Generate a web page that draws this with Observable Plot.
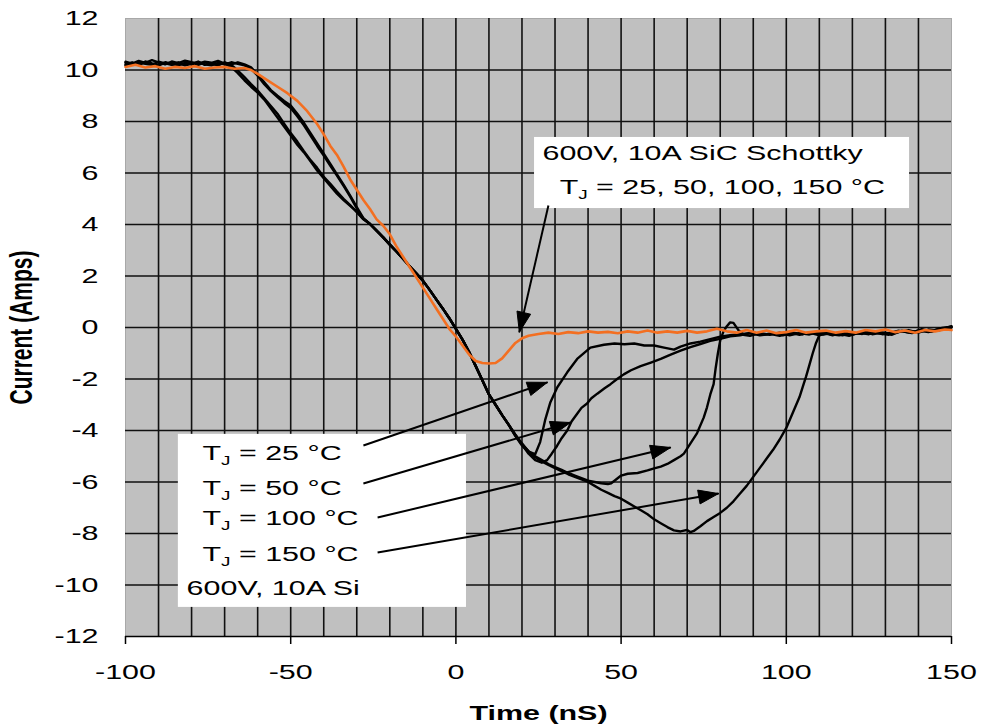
<!DOCTYPE html>
<html>
<head>
<meta charset="utf-8">
<script src="https://cdn.jsdelivr.net/npm/d3@7"></script>
<script src="https://cdn.jsdelivr.net/npm/@observablehq/plot@0.6"></script>
<style>
  html, body { margin: 0; padding: 0; background: #fff; }
</style>
</head>
<body>
<div id="chart"></div>
<script>
// ---------- axes ----------
const xDomain = [-100, 150];
const yDomain = [-12, 12];
const xTicks = [-100, -50, 0, 50, 100, 150];
const yTicks = [-12, -10, -8, -6, -4, -2, 0, 2, 4, 6, 8, 10, 12];
const xGrid = [-90, -80, -70, -60, -50, -40, -30, -20, -10, 0, 10, 20, 30, 40, 50, 60, 70, 80, 90, 100, 110, 120, 130, 140];
const yGrid = [-10, -8, -6, -4, -2, 0, 2, 4, 6, 8, 10];
const xTitle = "Time (nS)";
const yTitle = "Current (Amps)";

// ---------- SiC Schottky (orange) [time ns, current A] ----------
const sic = [[-100,10.12],[-97,10.2],[-94,10.1],[-91,10.15],[-88,10.05],[-85,10.12],[-82,10.08],[-79,10.15],[-76,10.05],[-73,10.1],[-70,10.12],[-67,10.05],[-64,10.08],[-62,10.0],[-60,9.85],[-57,9.6],[-54,9.35],[-51,9.1],[-48,8.8],[-45,8.4],[-42,7.9],[-40,7.5],[-38,7.05],[-36,6.7],[-34,6.25],[-32,5.75],[-30,5.35],[-28,4.95],[-26,4.6],[-24,4.2],[-22,3.95],[-20,3.62],[-18,3.15],[-16,2.75],[-14,2.35],[-12,1.95],[-10,1.55],[-8,1.15],[-6,0.75],[-4,0.35],[-2,-0.05],[0,-0.35],[2,-0.7],[4,-1.05],[6,-1.3],[8,-1.38],[10,-1.4],[12,-1.38],[14,-1.2],[16,-0.9],[18,-0.6],[20,-0.42],[22,-0.32],[25,-0.25],[28,-0.2],[31,-0.25],[34,-0.18],[37,-0.22],[40,-0.15],[43,-0.2],[46,-0.17],[49,-0.22],[52,-0.15],[55,-0.2],[58,-0.12],[61,-0.2],[64,-0.15],[67,-0.2],[70,-0.13],[73,-0.2],[76,-0.15],[79,-0.05],[82,-0.15],[85,-0.2],[88,-0.1],[91,-0.2],[94,-0.12],[97,-0.22],[100,-0.18],[103,-0.1],[106,-0.2],[109,-0.15],[112,-0.12],[115,-0.2],[118,-0.14],[121,-0.2],[124,-0.1],[127,-0.15],[130,-0.08],[133,-0.18],[136,-0.12],[139,-0.2],[142,-0.1],[145,-0.15],[148,-0.08],[150,-0.1]];

// ---------- Si diode (black) pieces ----------
const siEarlyA = [[-100,10.32],[-98,10.25],[-96,10.35],[-94,10.28],[-92,10.38],[-90,10.3],[-88,10.22],[-86,10.33],[-84,10.27],[-82,10.36],[-80,10.3],[-78,10.25],[-76,10.32],[-74,10.28],[-72,10.35],[-70,10.25],[-68,10.12],[-66,9.88],[-64,9.6],[-62,9.35],[-60,9.12],[-58,8.85],[-56,8.5],[-54,8.15],[-52,7.8],[-50,7.45],[-48,7.1],[-46,6.8],[-44,6.45],[-42,6.1],[-40,5.8],[-38,5.5],[-36,5.2],[-34,4.95],[-32,4.72],[-30,4.5],[-28,4.22]];
const siEarlyA2 = [[-100,10.22],[-98,10.3],[-96,10.2],[-94,10.33],[-92,10.26],[-90,10.2],[-88,10.3],[-86,10.24],[-84,10.18],[-82,10.28],[-80,10.22],[-78,10.33],[-76,10.2],[-74,10.26],[-72,10.18],[-70,10.3],[-68,10.2],[-66,9.98],[-64,9.72],[-62,9.45],[-60,9.2],[-58,8.9],[-56,8.6],[-54,8.3],[-52,7.92],[-50,7.55],[-48,7.22],[-46,6.85],[-44,6.5],[-42,6.2],[-40,5.85],[-38,5.58],[-36,5.28],[-34,5.0],[-32,4.75],[-30,4.48],[-28,4.2]];
const siEarlyB = [[-100,10.28],[-98,10.2],[-96,10.3],[-94,10.24],[-92,10.2],[-90,10.32],[-88,10.26],[-86,10.2],[-84,10.3],[-82,10.22],[-80,10.28],[-78,10.2],[-76,10.3],[-74,10.24],[-72,10.2],[-70,10.28],[-68,10.22],[-66,10.3],[-64,10.22],[-62,10.1],[-60,9.82],[-58,9.52],[-56,9.22],[-54,9.0],[-52,8.8],[-50,8.62],[-48,8.3],[-46,7.95],[-44,7.55],[-42,7.15],[-40,6.75],[-38,6.35],[-36,5.95],[-34,5.55],[-32,5.12],[-30,4.68],[-28,4.25]];
const siEarlyB2 = [[-100,10.18],[-98,10.26],[-96,10.22],[-94,10.3],[-92,10.24],[-90,10.18],[-88,10.28],[-86,10.22],[-84,10.26],[-82,10.18],[-80,10.24],[-78,10.3],[-76,10.22],[-74,10.18],[-72,10.28],[-70,10.22],[-68,10.3],[-66,10.24],[-64,10.18],[-62,10.05],[-60,9.78],[-58,9.45],[-56,9.18],[-54,8.95],[-52,8.72],[-50,8.52],[-48,8.2],[-46,7.85],[-44,7.45],[-42,7.05],[-40,6.68],[-38,6.28],[-36,5.9],[-34,5.5],[-32,5.08],[-30,4.62],[-28,4.22]];
const siCommon = [[-26,4.02],[-24,3.76],[-22,3.5],[-20,3.22],[-18,2.95],[-16,2.67],[-14,2.38],[-12,2.1],[-10,1.82],[-8,1.47],[-6,1.1],[-4,0.74],[-2,0.36],[0,-0.05],[2,-0.47],[4,-0.95],[6,-1.5],[8,-2.05],[10,-2.6],[12,-3.0],[14,-3.4],[16,-3.78]];
const tail25 = [[18,-4.15],[20,-4.5],[22,-4.82],[24,-4.92],[25.5,-4.45],[27,-3.6],[28.6,-2.9],[30.7,-2.32],[33.7,-1.74],[36.7,-1.22],[40.7,-0.78],[44.8,-0.67],[48,-0.62],[51,-0.65],[54,-0.62],[57,-0.7],[60,-0.7],[63,-0.78],[66,-0.86],[68,-0.74],[71,-0.62],[74,-0.55],[77,-0.45],[80,-0.36],[83,-0.3],[86,-0.26],[89,-0.32],[92,-0.22],[95,-0.28],[98,-0.2],[101,-0.3],[104,-0.22],[107,-0.27],[110,-0.18],[113,-0.25],[116,-0.3],[119,-0.2],[122,-0.24],[125,-0.15],[128,-0.22],[131,-0.28],[134,-0.18],[137,-0.1],[140,-0.2],[143,-0.08],[146,-0.12],[150,0.05]];
const tail50 = [[18,-4.18],[20,-4.55],[22,-4.9],[24,-5.15],[26,-5.25],[27.6,-5.15],[29,-4.9],[30.6,-4.6],[32,-4.3],[33.7,-4.0],[35,-3.65],[36.7,-3.35],[38,-3.12],[39.7,-2.95],[41,-2.75],[42.8,-2.57],[45,-2.36],[46.8,-2.2],[49,-1.98],[50.8,-1.82],[53,-1.66],[55.9,-1.5],[59,-1.36],[62,-1.22],[65,-1.05],[68,-0.9],[71,-0.76],[74,-0.64],[77,-0.52],[80,-0.44],[83,-0.34],[86,-0.3],[89,-0.22],[92,-0.3],[95,-0.25],[98,-0.32],[101,-0.2],[104,-0.28],[107,-0.2],[110,-0.3],[113,-0.2],[116,-0.25],[119,-0.32],[122,-0.2],[125,-0.26],[128,-0.18],[131,-0.22],[134,-0.12],[137,-0.2],[140,-0.12],[143,-0.18],[146,-0.05],[150,0.0]];
const tail100 = [[18,-4.2],[20,-4.55],[22,-4.8],[24,-5.0],[26,-5.15],[28,-5.3],[30,-5.42],[32,-5.53],[34,-5.65],[36,-5.75],[38,-5.85],[40,-5.95],[42,-6.0],[44,-6.05],[46,-6.08],[47,-6.05],[48,-5.95],[50,-5.75],[52,-5.68],[55,-5.65],[58,-5.55],[60,-5.47],[62,-5.4],[64,-5.3],[66,-5.15],[68,-5.0],[69,-4.9],[71,-4.5],[73,-4.1],[75,-3.5],[76,-3.1],[77,-2.6],[78,-2.2],[78.6,-1.6],[79.3,-1.0],[80,-0.5],[81,-0.15],[82,0.05],[83,0.2],[84,0.18],[85.5,-0.1],[87,-0.25],[90,-0.2],[93,-0.28],[96,-0.22],[99,-0.3],[102,-0.2],[105,-0.26],[108,-0.18],[111,-0.27],[114,-0.22],[117,-0.3],[120,-0.2],[123,-0.25],[126,-0.18],[129,-0.26],[132,-0.2],[135,-0.14],[138,-0.22],[141,-0.1],[144,-0.16],[147,-0.05],[150,0.0]];
const tail150 = [[18,-4.22],[20,-4.58],[22,-4.84],[24,-5.04],[26,-5.2],[28,-5.34],[30,-5.46],[32,-5.58],[34,-5.7],[36,-5.8],[38,-5.9],[40,-6.0],[42,-6.15],[44,-6.3],[46,-6.42],[48,-6.55],[50,-6.65],[52,-6.8],[54,-6.95],[56,-7.1],[58,-7.25],[60,-7.45],[62,-7.6],[64,-7.75],[66,-7.88],[68,-7.92],[70,-7.86],[71,-7.95],[72,-7.9],[74,-7.72],[76,-7.52],[78,-7.36],[80,-7.2],[82,-7.0],[84,-6.75],[86,-6.45],[88,-6.15],[90,-5.8],[92,-5.45],[94,-5.1],[96,-4.75],[98,-4.35],[100,-3.9],[102,-3.3],[104,-2.7],[105,-2.3],[106,-1.9],[107,-1.45],[108,-1.0],[109,-0.6],[110,-0.3],[111,-0.2],[114,-0.3],[117,-0.2],[120,-0.28],[123,-0.18],[126,-0.26],[129,-0.2],[132,-0.28],[135,-0.12],[138,-0.2],[141,-0.06],[144,-0.15],[147,-0.02],[150,0.03]];

// ---------- annotations ----------
const boxT1 = [-84, 23.8];
const boxT2 = [3.2, 137.3];
const boxI1 = [-10.87, 4.62];
const boxI2 = [-4.15, 7.38];

const labelText = ["T_J = 25 °C", "T_J = 50 °C", "T_J = 100 °C", "T_J = 150 °C", "600V, 10A Si", "600V, 10A SiC Schottky", "T_J = 25, 50, 100, 150 °C"];
const labelT = [-76.7, -76.7, -76.7, -76.7, -81.5, 26.2, 31.4];
const labelI = [-4.89, -6.25, -7.42, -8.82, -10.14, 6.76, 5.44];

const arrowStartT = [28.0, -28.0, -28.0, -23.7, -23.7];
const arrowStartI = [4.74, -4.58, -6.06, -7.38, -8.74];
const arrowEndT = [19.2, 27.7, 34.7, 65, 79.5];
const arrowEndI = [-0.18, -2.13, -3.69, -4.66, -6.45];

// ---------- build tables ----------
const toRows = (name, ...parts) => parts.flat().map(([t, i]) => ({series: name, t, i}));
const siRows = [
  ...toRows("Si 25", siEarlyB, siCommon, tail25),
  ...toRows("Si 50", siEarlyB2, siCommon, tail50),
  ...toRows("Si 100", siEarlyA2, siCommon, tail100),
  ...toRows("Si 150", siEarlyA, siCommon, tail150)
];
const sicRows = toRows("SiC", sic);
const boxes = boxT1.map((_, k) => ({t1: boxT1[k], t2: boxT2[k], i1: boxI1[k], i2: boxI2[k]}));
const labels = labelText.map((s, k) => ({text: s, t: labelT[k], i: labelI[k]}));
const arrows = arrowStartT.map((_, k) => ({id: k, t1: arrowStartT[k], i1: arrowStartI[k], t2: arrowEndT[k], i2: arrowEndI[k]}));

const common = {
  width: 981, height: 726,
  marginLeft: 125, marginRight: 30, marginTop: 18, marginBottom: 90,
  x: {domain: xDomain}, y: {domain: yDomain}
};
const probe = Plot.plot({...common, marks: [Plot.frame()]});
const sx = probe.scale("x"), sy = probe.scale("y");

// filled arrowheads, computed in screen space then mapped back through the scales
const headLen = 20, headHalf = 7;
const heads = [];
for (const a of arrows) {
  const x1 = sx.apply(a.t1), y1 = sy.apply(a.i1), x2 = sx.apply(a.t2), y2 = sy.apply(a.i2);
  const L = Math.hypot(x2 - x1, y2 - y1), ux = (x2 - x1) / L, uy = (y2 - y1) / L;
  const bx = x2 - ux * headLen, by = y2 - uy * headLen;
  const pts = [[x2, y2], [bx - uy * headHalf, by + ux * headHalf], [bx + uy * headHalf, by - ux * headHalf], [x2, y2]];
  for (const [px, py] of pts) heads.push({id: a.id, t: sx.invert(px), i: sy.invert(py)});
}

const FONT = "Liberation Sans, Arial, Helvetica, sans-serif";
const chart = Plot.plot({
  ...common,
  style: {fontFamily: FONT, fontSize: "21px", background: "#fff", color: "#000", overflow: "visible"},
  marks: [
    Plot.frame({fill: "#c0c0c0", stroke: "#a8a8a8"}),
    Plot.ruleX(xGrid, {stroke: "#111", strokeWidth: 1.6}),
    Plot.ruleY(yGrid, {stroke: "#111", strokeWidth: 1.6}),
    Plot.rect(boxes, {x1: "t1", x2: "t2", y1: "i1", y2: "i2", fill: "white"}),
    Plot.line(siRows, {x: "t", y: "i", z: "series", stroke: "#000", strokeWidth: 2.4}),
    Plot.line(sicRows, {x: "t", y: "i", stroke: "#f36f21", strokeWidth: 2.6}),
    Plot.link(arrows, {x1: "t1", y1: "i1", x2: "t2", y2: "i2", stroke: "#000", strokeWidth: 2}),
    Plot.line(heads, {x: "t", y: "i", z: "id", fill: "#000", stroke: "#000", strokeWidth: 1}),
    Plot.text(labels, {x: "t", y: "i", text: "text", textAnchor: "start", fontSize: 21, fill: "#000"}),
    Plot.ruleY([yDomain[0]], {stroke: "#000", strokeWidth: 1.6}),
    Plot.axisX({ticks: xTicks, tickSize: 8, tickPadding: 20, tickFormat: d => String(d), label: null, strokeWidth: 1.5}),
    Plot.axisY({ticks: yTicks, tickSize: 0, tickPadding: 27, tickFormat: d => String(d), label: null}),
    Plot.text([xTitle], {frameAnchor: "bottom", dy: 83, text: d => d, fontWeight: "bold", fontSize: 21}),
    Plot.text([yTitle], {frameAnchor: "left", dx: -103, rotate: -90, textAnchor: "middle", text: d => d, fontWeight: "bold", fontSize: 21})
  ]
});

// subscript J in "T_J"
const NS = "http://www.w3.org/2000/svg";
chart.querySelectorAll("text").forEach(t => {
  const s = t.textContent;
  if (s.startsWith("T_J")) {
    t.textContent = "";
    const a = document.createElementNS(NS, "tspan"); a.textContent = "T";
    const b = document.createElementNS(NS, "tspan"); b.textContent = "J";
    b.setAttribute("font-size", "13"); b.setAttribute("dy", "5");
    const c = document.createElementNS(NS, "tspan"); c.textContent = s.slice(3);
    c.setAttribute("dy", "-5");
    t.append(a, b, c);
  }
});
// the reference type is set wide: stretch every text horizontally about its anchor
const STRETCH = 1.45;
chart.querySelectorAll("text").forEach(t => {
  let x = parseFloat(t.getAttribute("x"));
  if (!isFinite(x)) x = 0;
  const tr = t.getAttribute("transform") || "";
  const sc = /rotate/.test(tr) ? `scale(1,${STRETCH})` : `translate(${x},0) scale(${STRETCH},1) translate(${-x},0)`;
  t.setAttribute("transform", `${tr} ${sc}`.trim());
});

document.getElementById("chart").append(chart);
</script>
</body>
</html>
